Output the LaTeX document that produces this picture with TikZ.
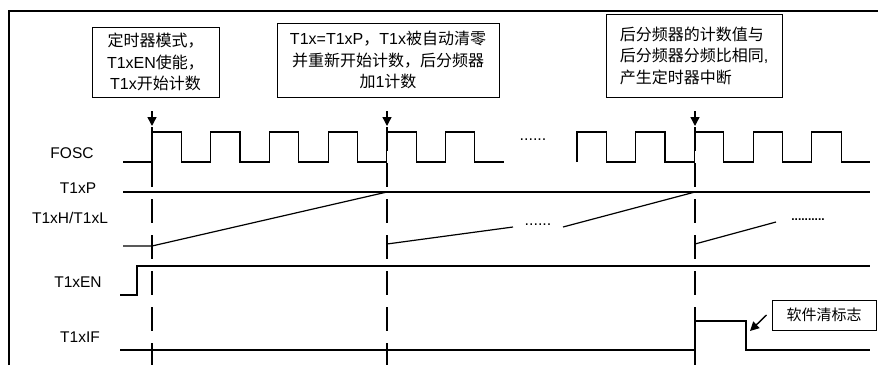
\documentclass[tikz,border=0pt]{standalone}
\usepackage{fontspec}
\setmainfont{Liberation Sans}
\newfontfamily\cjk{Noto Sans CJK SC}
\newcommand{\zh}[1]{{\cjk #1}}
\usetikzlibrary{arrows.meta,positioning}

\begin{document}
\begin{tikzpicture}[
  x=1pt, y=-1pt,
  font=\fontsize{16}{21.5}\selectfont,
  box/.style={draw, line width=1pt, inner sep=2pt},
  sig/.style={line width=1.2pt},
  guide/.style={line width=2pt, dash pattern=on 24pt off 12pt},
  arrow/.style={-{Triangle[length=9pt,width=9pt]}, line width=1.4pt},
  signame/.style={font=\fontsize{15.5}{18}\selectfont},
  dots/.style={font=\fontsize{16}{18}\selectfont, inner sep=0pt}
]
\useasboundingbox (0,0) rectangle (878,365);

% frame
\draw[line width=2pt] (9,365) -- (9,11) -- (878,11);

% notes above the time marks
\node[box, minimum width=127pt, minimum height=70pt, align=center] (start) at (155.5,62)
  {\zh{定时器模式，}\\T1xEN\zh{使能，}\\T1x\zh{开始计数}};
\node[box, minimum width=222pt, minimum height=74pt, align=center] (match) at (388,60)
  {T1x=T1xP\zh{，}T1x\zh{被自动清零}\\\zh{并重新开始计数，后分频器}\\\zh{加}1\zh{计数}};
\node[box, minimum width=176pt, minimum height=83pt, align=left] (intr) at (694,55.5)
  {\zh{后分频器的计数值与}\\\zh{后分频器分频比相同}{,}\\\zh{产生定时器中断}};

\coordinate (m1) at (152,126);
\coordinate (m2) at (387,126);
\coordinate (m3) at (695,126);
\draw[arrow] (m1 |- 0,111) -- (m1);
\draw[arrow] (m2 |- 0,111) -- (m2);
\draw[arrow] (m3 |- 0,111) -- (m3);

% time marks
\foreach \m in {m1,m2,m3}
  \draw[guide] ([yshift=-1pt]\m) -- (\m |- 0,365);

% signal names
\node[signame] (fosc) at (72,153) {FOSC};
\node[signame] (per) at (78,188) {T1xP};
\node[signame] (cnt) at (70,218) {T1xH/T1xL};
\node[signame] (en) at (78,282) {T1xEN};
\node[signame] (flg) at (80,337) {T1xIF};

% FOSC
\draw[sig] (123,162) foreach \k in {0,...,5} {
  -- ({152+58.7*\k},162) -- ++(0,-30) -- ++(29.35,0) -- ++(0,30) } -- (504,162);
\draw[sig] (577,162) foreach \k in {0,...,4} {
  -- ({577+58.7*\k},162) -- ++(0,-30) -- ++(29.35,0) -- ++(0,30) } -- (870,162);
\node[dots] (fdots) at (533,140) {......};

% T1xP
\draw[sig] (123,192) -- (870,192);

% T1xH/T1xL
\draw[sig] (123,246) -- (152,246) -- (387,192);
\draw[sig] (387,244) -- (513,227);
\node[dots] (cdots) at (538,225) {......};
\draw[sig] (563,227) -- (695,192);
\draw[sig] (695,244) -- (776,222);
\node[dots, font=\bfseries\fontsize{12}{12}\selectfont] (edots) at (808,220) {..........};

% T1xEN
\draw[sig] (120,295) -- (137,295) -- (137,266) -- (870,266);

% T1xIF
\draw[sig] (120,350) -- (695,350) -- (695,321) -- (746,321) -- (746,350) -- (870,350);
\node[box, minimum width=104pt, minimum height=30pt, font=\fontsize{15}{18}\selectfont] (clear) at (824,315) {\zh{软件清标志}};
\coordinate (fall) at (750,331);
\draw[arrow] ([xshift=-5pt]clear.west) -- (fall);

\end{tikzpicture}
\end{document}
